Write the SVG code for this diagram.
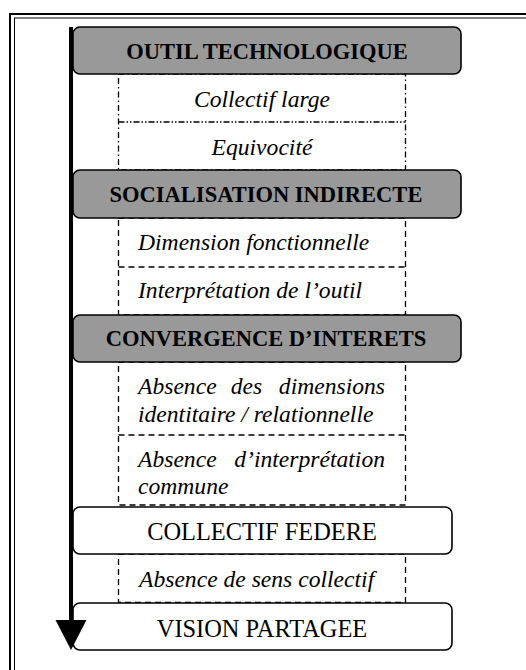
<svg xmlns="http://www.w3.org/2000/svg" width="526" height="670" viewBox="0 0 526 670">
<style>
.frame{fill:none;stroke:#000}
.hdr{fill:#999;stroke:#000;stroke-width:1.6}
.box{fill:#fff;stroke:#000;stroke-width:1.6}
.dd{fill:#fff;stroke:#000;stroke-width:1.3;stroke-dasharray:6 3 1.5 3}
.ds{fill:#fff;stroke:#000;stroke-width:1.3;stroke-dasharray:6 4}
.sep{fill:none;stroke:#000;stroke-width:1.3;stroke-dasharray:6 4}
.sepdd{fill:none;stroke:#000;stroke-width:1.3;stroke-dasharray:6 2 1.5 2 1.5 2}
text{font-family:"Liberation Serif","Times New Roman",serif;fill:#000}
.b{font-weight:bold;font-size:22.5px;text-anchor:middle}
.r{font-size:24.4px;text-anchor:middle}
.i{font-style:italic;font-size:23.6px}
.c{text-anchor:middle}
.e{text-anchor:end}
</style>
<defs>
<marker id="ah" viewBox="0 -16 30 32" markerWidth="30" markerHeight="32" refX="0" refY="0" orient="auto" markerUnits="userSpaceOnUse">
<path d="M0,-15.5 L30,0 L0,15.5 z" fill="#000"/>
</marker>
</defs>
<rect width="526" height="670" fill="#fff"/>
<rect class="frame" x="10" y="14" width="600" height="700" stroke-width="2"/>
<rect class="frame" x="14.5" y="18" width="600" height="700" stroke-width="1"/>

<g id="sec1">
<rect class="dd" x="118.5" y="74" width="287" height="96"/>
<line class="sepdd" x1="118.5" y1="122" x2="405.5" y2="122"/>
</g>
<g id="sec2">
<rect class="ds" x="118.5" y="218" width="287" height="97"/>
<line class="sep" x1="118.5" y1="267" x2="405.5" y2="267"/>
</g>
<g id="sec3">
<rect class="ds" x="118.5" y="362" width="287" height="143"/>
<line class="sep" x1="118.5" y1="435" x2="405.5" y2="435"/>
</g>
<g id="sec4">
<rect class="ds" x="118.5" y="554" width="287" height="48.5"/>
</g>

<g id="outil">
<rect class="hdr" x="73" y="27" width="388" height="47" rx="7"/>
<text class="b" x="267" y="58.5">OUTIL TECHNOLOGIQUE</text>
</g>
<g id="collectif-large"><text class="i c" x="262" y="106.5">Collectif large</text></g>
<g id="equivocite"><text class="i c" x="262" y="155">Equivocité</text></g>

<g id="socialisation">
<rect class="hdr" x="73" y="170" width="388" height="48" rx="7"/>
<text class="b" x="266" y="201.5">SOCIALISATION INDIRECTE</text>
</g>
<g id="dimension"><text class="i" x="138" y="250">Dimension fonctionnelle</text></g>
<g id="interpretation"><text class="i" x="138" y="297.5">Interprétation de l’outil</text></g>

<g id="convergence">
<rect class="hdr" x="73" y="315" width="388" height="47" rx="7"/>
<text class="b" x="266" y="345.5">CONVERGENCE D’INTERETS</text>
</g>
<g id="absence-dimensions">
<text class="i" x="138" y="394">Absence</text>
<text class="i c" x="246.5" y="394">des</text>
<text class="i e" x="385" y="394">dimensions</text>
<text class="i" x="138" y="421.5">identitaire / relationnelle</text>
</g>
<g id="absence-interpretation">
<text class="i" x="138" y="466.5">Absence</text>
<text class="i e" x="385" y="466.5">d’interprétation</text>
<text class="i" x="138" y="494">commune</text>
</g>

<g id="collectif-federe">
<rect class="box" x="73" y="507" width="379" height="47" rx="7"/>
<text class="r" x="262" y="540">COLLECTIF FEDERE</text>
</g>
<g id="absence-sens"><text class="i" x="139" y="587">Absence de sens collectif</text></g>

<g id="vision">
<rect class="box" x="73" y="603" width="379" height="47" rx="7"/>
<text class="r" x="262" y="636.5">VISION PARTAGEE</text>
</g>

<g id="connectors">
<line x1="71" y1="27" x2="71" y2="620" stroke="#000" stroke-width="4" marker-end="url(#ah)"/>
</g>
</svg>
